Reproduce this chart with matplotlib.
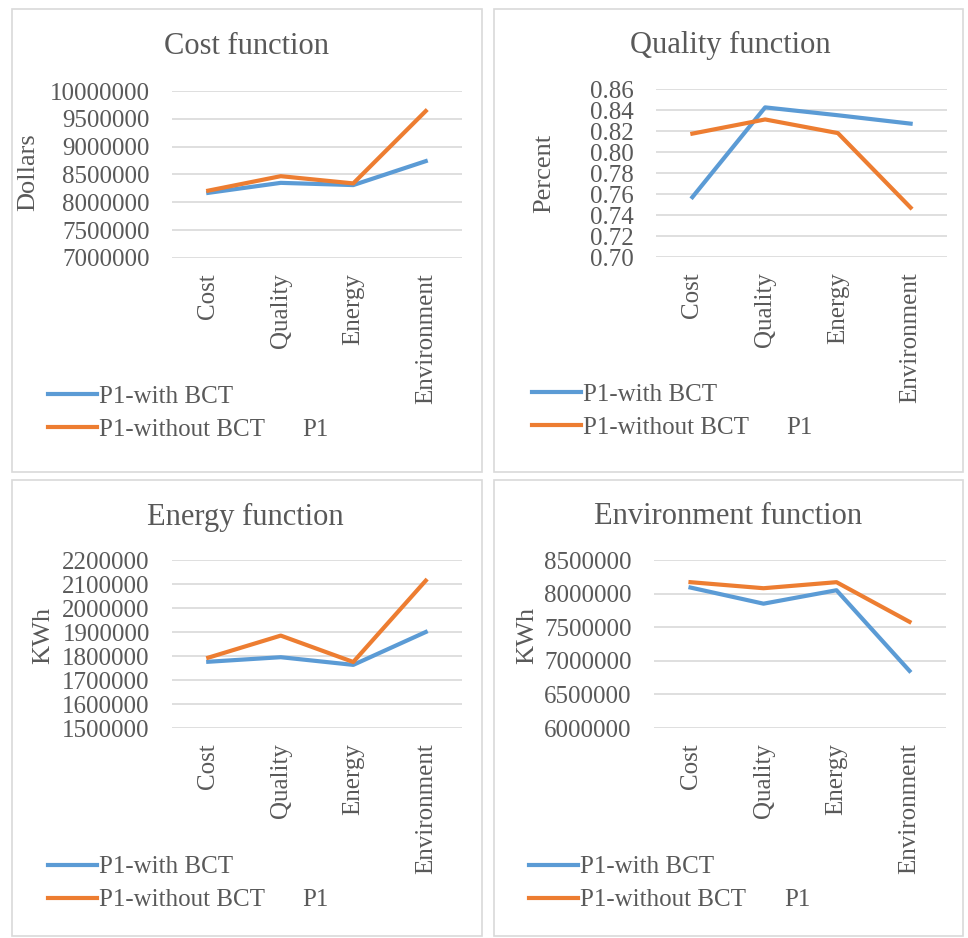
import matplotlib
matplotlib.use("Agg")
import matplotlib.pyplot as plt
from matplotlib.patches import Rectangle
from matplotlib.ticker import FuncFormatter

plt.rcParams['font.family'] = ['Liberation Serif', 'DejaVu Serif']

categories = ["Cost", "Quality", "Energy", "Environment"]
series_names = ["P1-with BCT", "P1-without BCT"]

cost_with = [8170000, 8350000, 8310000, 8740000]
cost_without = [8210000, 8470000, 8340000, 9640000]

quality_with = [0.757, 0.8425, 0.835, 0.827]
quality_without = [0.8175, 0.831, 0.818, 0.747]

energy_with = [1776000, 1795000, 1763000, 1900000]
energy_without = [1793000, 1885000, 1775000, 2114000]

env_with = [8090000, 7850000, 8050000, 6850000]
env_without = [8170000, 8080000, 8170000, 7580000]

titles = ["Cost function", "Quality function", "Energy function", "Environment function"]
ylabels = ["Dollars", "Percent", "KWh", "KWh"]
yticks = [
    [7000000, 7500000, 8000000, 8500000, 9000000, 9500000, 10000000],
    [0.70, 0.72, 0.74, 0.76, 0.78, 0.80, 0.82, 0.84, 0.86],
    [1500000, 1600000, 1700000, 1800000, 1900000, 2000000, 2100000, 2200000],
    [6000000, 6500000, 7000000, 7500000, 8000000, 8500000],
]
data = [(cost_with, cost_without), (quality_with, quality_without),
        (energy_with, energy_without), (env_with, env_without)]

W, H = 968, 938
fig = plt.figure(figsize=(W / 100, H / 100), dpi=100)
fig.patch.set_facecolor("white")

TXT = "#595959"
GRID = "#D9D9D9"
BLUE = "#5B9BD5"
ORANGE = "#ED7D31"

def fx(px):
    return px / W

def fy(py):
    return 1 - py / H

# panel geometry in pixels: box (x0,y0,x1,y1), axes (left, top, right, bottom)
panels = [
    dict(box=(12, 9, 482, 472), ax=(172, 91, 462, 258), title=(246, 47), ylab=(28, 172),
         leg=(48, 397), p1=(302, 430), fmt="int"),
    dict(box=(494, 9, 963, 472), ax=(656, 89, 947, 257), title=(730, 45), ylab=(544, 173),
         leg=(532, 395), p1=(786, 428), fmt="2f"),
    dict(box=(12, 480, 482, 936), ax=(172, 560, 462, 728), title=(245, 517), ylab=(43, 635),
         leg=(48, 867), p1=(302, 900), fmt="int"),
    dict(box=(494, 480, 963, 936), ax=(654, 560, 946, 728), title=(728, 517), ylab=(527, 635),
         leg=(529, 867), p1=(784, 900), fmt="int"),
]

for i, p in enumerate(panels):
    x0, y0, x1, y1 = p["box"]
    fig.add_artist(Rectangle((fx(x0), fy(y1)), fx(x1 - x0), (y1 - y0) / H,
                             transform=fig.transFigure, fill=False,
                             edgecolor=GRID, linewidth=1.2))
    l, t, r, b = p["ax"]
    ax = fig.add_axes([fx(l), fy(b), fx(r - l), (b - t) / H])
    ax.set_facecolor("none")
    xs = list(range(len(categories)))
    w, wo = data[i]
    h1, = ax.plot(xs, w, color=BLUE, linewidth=3.0, solid_joinstyle="round", label=series_names[0])
    h2, = ax.plot(xs, wo, color=ORANGE, linewidth=3.0, solid_joinstyle="round", label=series_names[1])
    ax.set_xlim(-0.5, len(categories) - 0.5)
    yt = yticks[i]
    ax.set_ylim(yt[0], yt[-1])
    ax.set_yticks(yt)
    if p["fmt"] == "2f":
        ax.yaxis.set_major_formatter(FuncFormatter(lambda v, pos: f"{v:.2f}"))
    else:
        ax.yaxis.set_major_formatter(FuncFormatter(lambda v, pos: f"{int(round(v))}"))
    ax.set_xticks(xs)
    ax.set_xticklabels(categories, rotation=90)
    ax.grid(axis="y", color=GRID, linewidth=1.2)
    ax.set_axisbelow(True)
    for s in ax.spines.values():
        s.set_visible(False)
    ax.tick_params(axis="both", length=0, labelsize=18, colors=TXT)
    ax.tick_params(axis="y", pad=16)
    ax.tick_params(axis="x", pad=11)
    fig.text(fx(p["title"][0]), fy(p["title"][1]), titles[i], ha="center", va="center",
             fontsize=22, color=TXT)
    fig.text(fx(p["ylab"][0]), fy(p["ylab"][1]), ylabels[i], ha="center", va="center",
             rotation=90, fontsize=19, color=TXT)
    lx, ly = p["leg"]
    leg = ax.legend(handles=[h1, h2], loc="center left",
                    bbox_to_anchor=(fx(lx), fy(ly + 16.5)), bbox_transform=fig.transFigure,
                    frameon=False, fontsize=18, handlelength=1.95, handletextpad=0.08,
                    labelspacing=0.42, borderpad=0, borderaxespad=0)
    for txt in leg.get_texts():
        txt.set_color(TXT)
    fig.text(fx(p["p1"][0]), fy(p["p1"][1]), "P1", ha="left", va="center",
             fontsize=18, color=TXT)

fig.savefig("out.png", dpi=100, facecolor="white")
